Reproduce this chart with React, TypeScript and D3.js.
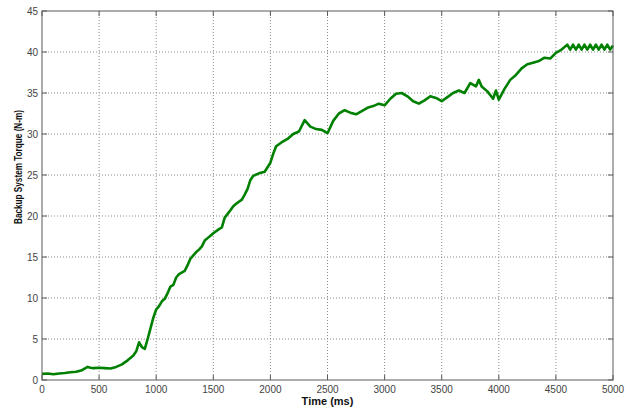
import React from "react";
import * as d3 from "d3";

const timeMs = [
  0, 50, 100, 150, 200, 250, 300, 350, 400, 425, 450, 500, 550, 600, 650, 700, 750, 800, 825, 850, 875, 900, 925, 950, 975, 1000,
  1025, 1050, 1075, 1100, 1125, 1150, 1175, 1200, 1250, 1275, 1300, 1325, 1350, 1375, 1400, 1425, 1450, 1475, 1500, 1550, 1575, 1600, 1650, 1675, 1700, 1750, 1775, 1800, 1825, 1850, 1900, 1950, 2000,
  2025, 2050, 2100, 2150, 2200, 2250, 2300, 2350, 2400, 2450, 2500, 2550, 2600, 2650, 2700, 2750, 2800, 2850, 2900, 2950, 3000,
  3050, 3100, 3150, 3200, 3250, 3300, 3350, 3400, 3450, 3500, 3550, 3600, 3650, 3700, 3750, 3800, 3825, 3850, 3900, 3950,
  3975, 4000, 4050, 4100, 4150, 4200, 4250, 4300, 4350, 4400, 4450, 4500, 4550, 4600, 4625, 4650, 4675, 4700, 4725, 4750,
  4775, 4800, 4825, 4850, 4875, 4900, 4925, 4950, 4975, 5000,
];

const torque = [
  0.75, 0.8, 0.7, 0.8, 0.85, 0.95, 1.0, 1.2, 1.6, 1.5, 1.45, 1.5, 1.45, 1.4, 1.6, 1.9, 2.4, 3.0, 3.5, 4.6, 4.0, 3.8, 5.0, 6.3, 7.6, 8.6,
  9.0, 9.6, 9.9, 10.6, 11.4, 11.6, 12.5, 12.9, 13.3, 14.0, 14.8, 15.2, 15.6, 15.9, 16.3, 17.0, 17.3, 17.6, 17.9, 18.4, 18.6, 19.8, 20.7, 21.2, 21.5, 22.0, 22.6, 23.3, 24.4, 24.9, 25.2, 25.4, 26.5,
  27.6, 28.5, 29.0, 29.4, 30.0, 30.3, 31.7, 30.9, 30.6, 30.5, 30.1, 31.6, 32.5, 32.9, 32.6, 32.4, 32.8, 33.2, 33.4, 33.7, 33.5,
  34.3, 34.9, 35.0, 34.6, 34.0, 33.7, 34.1, 34.6, 34.4, 34.0, 34.5, 35.0, 35.3, 35.0, 36.2, 35.8, 36.6, 35.8, 35.2, 34.3,
  35.3, 34.2, 35.5, 36.6, 37.2, 38.0, 38.5, 38.7, 38.9, 39.3, 39.2, 39.9, 40.3, 40.9, 40.3, 40.9, 40.3, 40.9, 40.3, 40.9,
  40.3, 40.9, 40.3, 40.9, 40.3, 40.9, 40.3, 40.9, 40.3, 40.8,
];

const xTicks = [0, 500, 1000, 1500, 2000, 2500, 3000, 3500, 4000, 4500, 5000];
const yTicks = [0, 5, 10, 15, 20, 25, 30, 35, 40, 45];
const xLabel = "Time (ms)";
const yLabel = "Backup System Torque (N-m)";

export default function App() {
  const W = 630, H = 409;
  const left = 42, right = 613, top = 11, bottom = 380;
  const x = d3.scaleLinear().domain([0, 5000]).range([left, right]);
  const y = d3.scaleLinear().domain([0, 45]).range([bottom, top]);
  const pts: [number, number][] = timeMs.map((t, i) => [t, torque[i]]);
  const line = d3.line<[number, number]>().x(d => x(d[0])).y(d => y(d[1]));
  const axisColor = "#5a5a5a";
  const gridColor = "#8a8a8a";
  const tickFont = "'Liberation Sans Narrow', 'Liberation Sans', Arial, sans-serif";
  return (
    <svg width={W} height={H} style={{ position: "absolute", left: 0, top: 0, background: "#fff" }}>
      <rect x={0} y={0} width={W} height={H} fill="#fff" />
      {xTicks.slice(1, -1).map(t => (
        <line key={"gx" + t} x1={x(t)} x2={x(t)} y1={top} y2={bottom} stroke={gridColor} strokeWidth={1} strokeDasharray="1,2" />
      ))}
      {yTicks.slice(1, -1).map(t => (
        <line key={"gy" + t} x1={left} x2={right} y1={y(t)} y2={y(t)} stroke={gridColor} strokeWidth={1} strokeDasharray="1,2" />
      ))}
      {xTicks.map(t => (
        <g key={"tx" + t}>
          <line x1={x(t)} x2={x(t)} y1={bottom} y2={bottom - 5} stroke={axisColor} />
          <line x1={x(t)} x2={x(t)} y1={top} y2={top + 5} stroke={axisColor} />
          <text x={x(t)} y={393} textAnchor="middle" fontFamily={tickFont} fontSize={10} fill="#444">{t}</text>
        </g>
      ))}
      {yTicks.map(t => (
        <g key={"ty" + t}>
          <line x1={left} x2={left + 5} y1={y(t)} y2={y(t)} stroke={axisColor} />
          <line x1={right} x2={right - 5} y1={y(t)} y2={y(t)} stroke={axisColor} />
          <text x={38} y={y(t)} dy="0.35em" textAnchor="end" fontFamily={tickFont} fontSize={10} fill="#444">{t}</text>
        </g>
      ))}
      <path d={line(pts) || ""} fill="none" stroke="#008000" strokeWidth={2.6} strokeLinejoin="round" />
      <rect x={left} y={top} width={right - left} height={bottom - top} fill="none" stroke={axisColor} strokeWidth={1} />
      <text x={(left + right) / 2} y={405} textAnchor="middle" fontFamily="'Liberation Sans', Arial, sans-serif" fontWeight="bold" fontSize={11} fill="#111">{xLabel}</text>
      <text transform={`translate(22, 167) rotate(-90)`} textAnchor="middle" fontFamily="'Liberation Sans', Arial, sans-serif" fontWeight="bold" fontSize={11} textLength={114} lengthAdjust="spacingAndGlyphs" fill="#111">{yLabel}</text>
    </svg>
  );
}
